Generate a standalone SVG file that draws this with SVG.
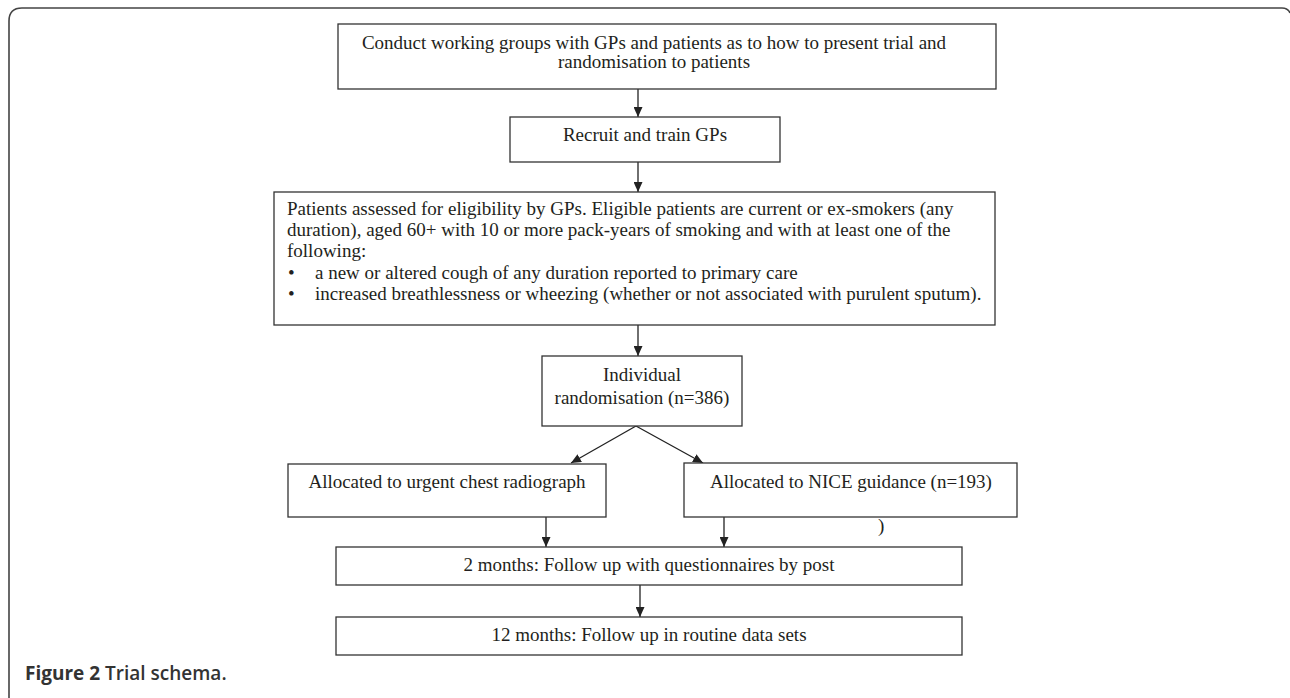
<svg xmlns="http://www.w3.org/2000/svg" width="1290" height="698" viewBox="0 0 1290 698">
<defs>
<marker id="ah" viewBox="0 0 10 10" refX="10" refY="5" markerWidth="10" markerHeight="9" markerUnits="userSpaceOnUse" orient="auto" preserveAspectRatio="none">
<path d="M0,0 L10,5 L0,10 z" fill="#222"/>
</marker>
<style>
.box{fill:#fff;stroke:#333;stroke-width:1.3}
.t{font-family:"Liberation Serif","Times New Roman",serif;font-size:19px;fill:#231f20}
.c{text-anchor:middle}
.ln{stroke:#222;stroke-width:1.3;fill:none;marker-end:url(#ah)}
.cap{font-family:"Open Sans","Noto Sans",sans-serif;font-size:19px;font-weight:bold;fill:#333}
</style>
</defs>
<rect width="1290" height="698" fill="#fff"/>
<path d="M9,698 L9,21 Q9,8 22,8 L1282,8 Q1288,8 1290,13" fill="none" stroke="#444" stroke-width="1.6"/>
<g id="connectors">
<line class="ln" x1="638" y1="89" x2="638" y2="117"/>
<line class="ln" x1="638" y1="162" x2="638" y2="192"/>
<line class="ln" x1="638" y1="325" x2="638" y2="356"/>
<line class="ln" x1="636" y1="426" x2="571" y2="463"/>
<line class="ln" x1="636" y1="426" x2="703" y2="463"/>
<line class="ln" x1="546" y1="517" x2="546" y2="547"/>
<line class="ln" x1="724" y1="517" x2="724" y2="547"/>
<line class="ln" x1="640" y1="585" x2="640" y2="617"/>
</g>
<g id="n1">
<rect class="box" x="338" y="24" width="658" height="65"/>
<text class="t c" x="654" y="49">Conduct working groups with GPs and patients as to how to present trial and</text>
<text class="t c" x="654" y="68">randomisation to patients</text>
</g>
<g id="n2">
<rect class="box" x="510" y="117" width="270" height="45"/>
<text class="t c" x="645" y="141">Recruit and train GPs</text>
</g>
<g id="n3">
<rect class="box" x="274" y="192" width="721" height="133"/>
<text class="t" x="287" y="215">Patients assessed for eligibility by GPs. Eligible patients are current or ex-smokers (any</text>
<text class="t" x="287" y="236">duration), aged 60+ with 10 or more pack-years of smoking and with at least one of the</text>
<text class="t" x="287" y="257">following:</text>
<text class="t" x="288" y="279">•</text>
<text class="t" x="315" y="279">a new or altered cough of any duration reported to primary care</text>
<text class="t" x="288" y="300">•</text>
<text class="t" x="315" y="300">increased breathlessness or wheezing (whether or not associated with purulent sputum).</text>
</g>
<g id="n4">
<rect class="box" x="542" y="356" width="200" height="70"/>
<text class="t c" x="642" y="381">Individual</text>
<text class="t c" x="642" y="404">randomisation (n=386)</text>
</g>
<g id="n5">
<rect class="box" x="288" y="464" width="318" height="53"/>
<text class="t c" x="447" y="488">Allocated to urgent chest radiograph</text>
</g>
<g id="n6">
<rect class="box" x="684" y="463" width="333" height="54"/>
<text class="t c" x="851" y="488">Allocated to NICE guidance (n=193)</text>
<text class="t" x="878" y="532">)</text>
</g>
<g id="n7">
<rect class="box" x="336" y="547" width="626" height="38"/>
<text class="t c" x="649" y="571">2 months: Follow up with questionnaires by post</text>
</g>
<g id="n8">
<rect class="box" x="336" y="617" width="626" height="38"/>
<text class="t c" x="649" y="641">12 months: Follow up in routine data sets</text>
</g>
<text class="cap" x="25" y="680">Figure 2 <tspan font-weight="600">Trial schema.</tspan></text>
</svg>
